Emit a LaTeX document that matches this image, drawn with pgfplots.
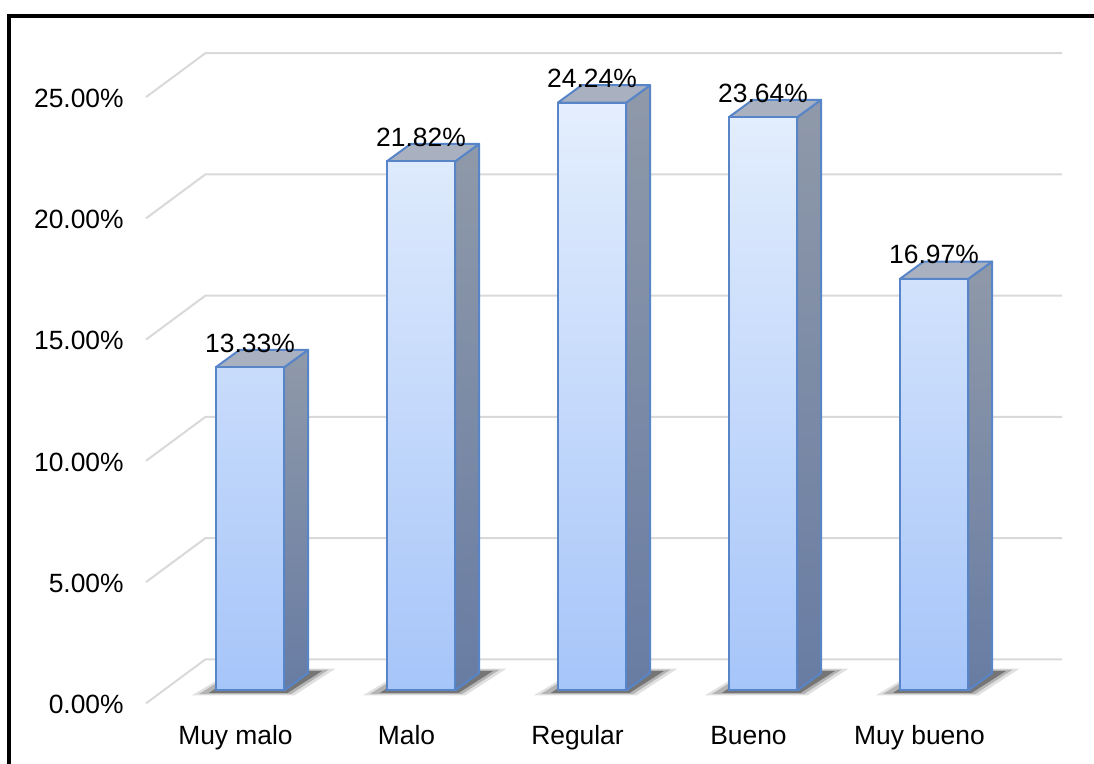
\documentclass[border=0pt]{standalone}
\usepackage{fontspec}
\setmainfont{Liberation Sans}
\usepackage{pgfplots}
\pgfplotsset{compat=1.18}
\definecolor{gridc}{HTML}{D9D9D9}
\definecolor{ftop}{HTML}{E4EEFD}
\definecolor{fbot}{HTML}{A6C5F9}
\definecolor{bord}{HTML}{5785C8}
\definecolor{stop}{HTML}{8F99A9}
\definecolor{sbot}{HTML}{687CA3}
\definecolor{tface}{HTML}{A9B1C1}
\pgfplotsset{
 shA/.style={draw=none, fill=black, fill opacity=0.12},
 shB/.style={draw=none, fill=black, fill opacity=0.2},
 shC/.style={draw=none, fill=black, fill opacity=0.35},
}
\begin{document}
\begin{tikzpicture}
\path[use as bounding box] (-125pt,-36.75pt) rectangle (422pt,345.25pt);
\begin{axis}[
 anchor=origin, at={(0pt,0pt)},
 x=85.5pt, y=12.125pt,
 xmin=-0.608, xmax=4.749, ymin=-0.6, ymax=26.5,
 clip=false,
 axis line style={draw=none},
 major tick length=0pt,
 /pgf/number format/assume math mode=true,
 xtick={0,1,2,3,4},
 xticklabels={Muy malo,Malo,Regular,Bueno,Muy bueno},
 ytick={0,5,10,15,20,25},
 yticklabels={0.00\%,5.00\%,10.00\%,15.00\%,20.00\%,25.00\%},
 tick label style={font=\fontsize{13.2}{15}\selectfont, inner sep=0pt},
 xticklabel style={anchor=base, yshift=-19.75pt, xshift=-7.25pt},
 yticklabel style={anchor=east, xshift=-11pt, yshift=-7pt},
]
% back wall / floor gridlines
\addplot[gridc, line width=1pt] coordinates {(-0.608,-0.53) (-0.26,1.287) (4.749,1.287)};
\addplot[gridc, line width=1pt] coordinates {(-0.608,4.47) (-0.26,6.287) (4.749,6.287)};
\addplot[gridc, line width=1pt] coordinates {(-0.608,9.47) (-0.26,11.287) (4.749,11.287)};
\addplot[gridc, line width=1pt] coordinates {(-0.608,14.47) (-0.26,16.287) (4.749,16.287)};
\addplot[gridc, line width=1pt] coordinates {(-0.608,19.47) (-0.26,21.287) (4.749,21.287)};
\addplot[gridc, line width=1pt] coordinates {(-0.608,24.47) (-0.26,26.287) (4.749,26.287)};
% floor shadows
\addplot[shA] coordinates {(-0.34,-0.2) (0.26,-0.2) (0.5,0.9) (-0.08,0.9)};
\addplot[shB] coordinates {(-0.3,-0.15) (0.24,-0.15) (0.46,0.86) (-0.07,0.86)};
\addplot[shC] coordinates {(-0.24,-0.1) (0.22,-0.1) (0.42,0.8) (-0.05,0.8)};
\addplot[shA] coordinates {(0.66,-0.2) (1.26,-0.2) (1.5,0.9) (0.92,0.9)};
\addplot[shB] coordinates {(0.7,-0.15) (1.24,-0.15) (1.46,0.86) (0.93,0.86)};
\addplot[shC] coordinates {(0.76,-0.1) (1.22,-0.1) (1.42,0.8) (0.95,0.8)};
\addplot[shA] coordinates {(1.66,-0.2) (2.26,-0.2) (2.5,0.9) (1.92,0.9)};
\addplot[shB] coordinates {(1.7,-0.15) (2.24,-0.15) (2.46,0.86) (1.93,0.86)};
\addplot[shC] coordinates {(1.76,-0.1) (2.22,-0.1) (2.42,0.8) (1.95,0.8)};
\addplot[shA] coordinates {(2.66,-0.2) (3.26,-0.2) (3.5,0.9) (2.92,0.9)};
\addplot[shB] coordinates {(2.7,-0.15) (3.24,-0.15) (3.46,0.86) (2.93,0.86)};
\addplot[shC] coordinates {(2.76,-0.1) (3.22,-0.1) (3.42,0.8) (2.95,0.8)};
\addplot[shA] coordinates {(3.66,-0.2) (4.26,-0.2) (4.5,0.9) (3.92,0.9)};
\addplot[shB] coordinates {(3.7,-0.15) (4.24,-0.15) (4.46,0.86) (3.93,0.86)};
\addplot[shC] coordinates {(3.76,-0.1) (4.22,-0.1) (4.42,0.8) (3.95,0.8)};
% side faces
\addplot[draw=bord, line width=1pt, line join=round, top color=stop, bottom color=sbot] coordinates {(0.2,0) (0.34,0.72) (0.34,14.05) (0.2,13.33) (0.2,0)};
\addplot[draw=bord, line width=1pt, line join=round, top color=stop, bottom color=sbot] coordinates {(1.2,0) (1.34,0.72) (1.34,22.54) (1.2,21.82) (1.2,0)};
\addplot[draw=bord, line width=1pt, line join=round, top color=stop, bottom color=sbot] coordinates {(2.2,0) (2.34,0.72) (2.34,24.96) (2.2,24.24) (2.2,0)};
\addplot[draw=bord, line width=1pt, line join=round, top color=stop, bottom color=sbot] coordinates {(3.2,0) (3.34,0.72) (3.34,24.36) (3.2,23.64) (3.2,0)};
\addplot[draw=bord, line width=1pt, line join=round, top color=stop, bottom color=sbot] coordinates {(4.2,0) (4.34,0.72) (4.34,17.69) (4.2,16.97) (4.2,0)};
% top faces
\addplot[draw=bord, line width=1pt, line join=round, fill=tface] coordinates {(-0.2,13.33) (0.2,13.33) (0.34,14.05) (-0.06,14.05) (-0.2,13.33)};
\addplot[draw=bord, line width=1pt, line join=round, fill=tface] coordinates {(0.8,21.82) (1.2,21.82) (1.34,22.54) (0.94,22.54) (0.8,21.82)};
\addplot[draw=bord, line width=1pt, line join=round, fill=tface] coordinates {(1.8,24.24) (2.2,24.24) (2.34,24.96) (1.94,24.96) (1.8,24.24)};
\addplot[draw=bord, line width=1pt, line join=round, fill=tface] coordinates {(2.8,23.64) (3.2,23.64) (3.34,24.36) (2.94,24.36) (2.8,23.64)};
\addplot[draw=bord, line width=1pt, line join=round, fill=tface] coordinates {(3.8,16.97) (4.2,16.97) (4.34,17.69) (3.94,17.69) (3.8,16.97)};
% front faces
\addplot[ybar, bar width=0.4, bar shift=0pt, draw=bord, line width=1pt, top color=ftop, bottom color=fbot]
 coordinates {(0,13.33) (1,21.82) (2,24.24) (3,23.64) (4,16.97)};
% data labels
\addplot[draw=none, mark=none,
 nodes near coords={\pgfmathprintnumber[fixed,fixed zerofill,precision=2]{\pgfplotspointmeta}\%},
 every node near coord/.append style={font=\fontsize{13.2}{15}\selectfont, anchor=center, yshift=12.1pt, inner sep=0pt, text=black}]
 coordinates {(0,13.33) (1,21.82) (2,24.24) (3,23.64) (4,16.97)};
\end{axis}
\draw[line width=2pt, black, line join=miter] (-120.5pt,-60pt) -- (-120.5pt,337.1pt) -- (450pt,337.1pt);
\end{tikzpicture}
\end{document}
